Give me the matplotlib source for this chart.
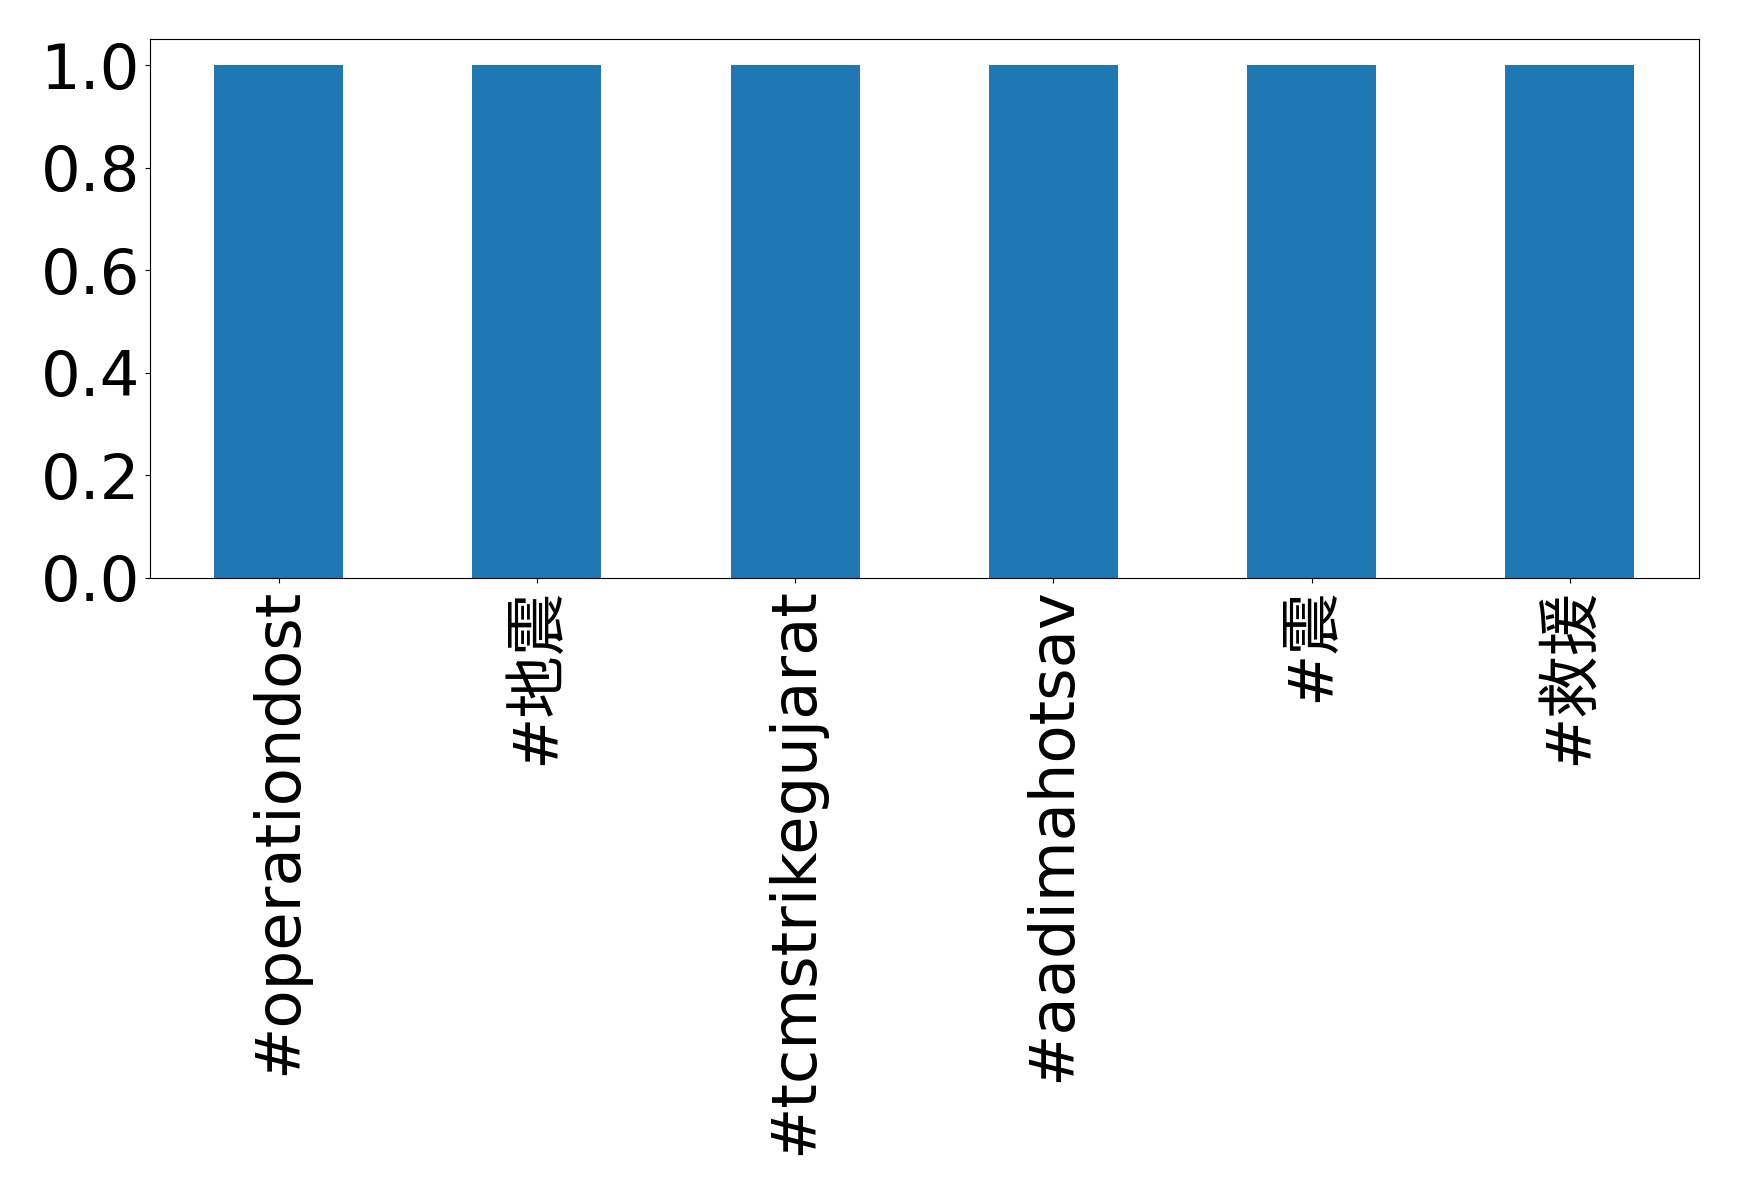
import matplotlib
matplotlib.use("Agg")
import matplotlib.pyplot as plt
import numpy as np

plt.rcParams['font.family'] = ['DejaVu Sans', 'Noto Sans CJK SC']

hashtags = ['#operationdost', '#地震', '#tcmstrikegujarat', '#aadimahotsav', '#震', '#救援']
counts = [1, 1, 1, 1, 1, 1]

fig, ax = plt.subplots(figsize=(17.39, 11.96), dpi=100)
ax.bar(range(len(hashtags)), counts, width=0.5, color='#1f77b4')
ax.set_xlim(-0.5, len(hashtags) - 0.5)
ax.set_xticks(range(len(hashtags)))
ax.set_xticklabels(hashtags, rotation=90, fontsize=45)
ax.set_yticks(np.arange(0, 1.01, 0.2))
ax.tick_params(axis='y', labelsize=45)
fig.subplots_adjust(left=0.086, right=0.977, top=0.967, bottom=0.517)
fig.savefig('out.png')
